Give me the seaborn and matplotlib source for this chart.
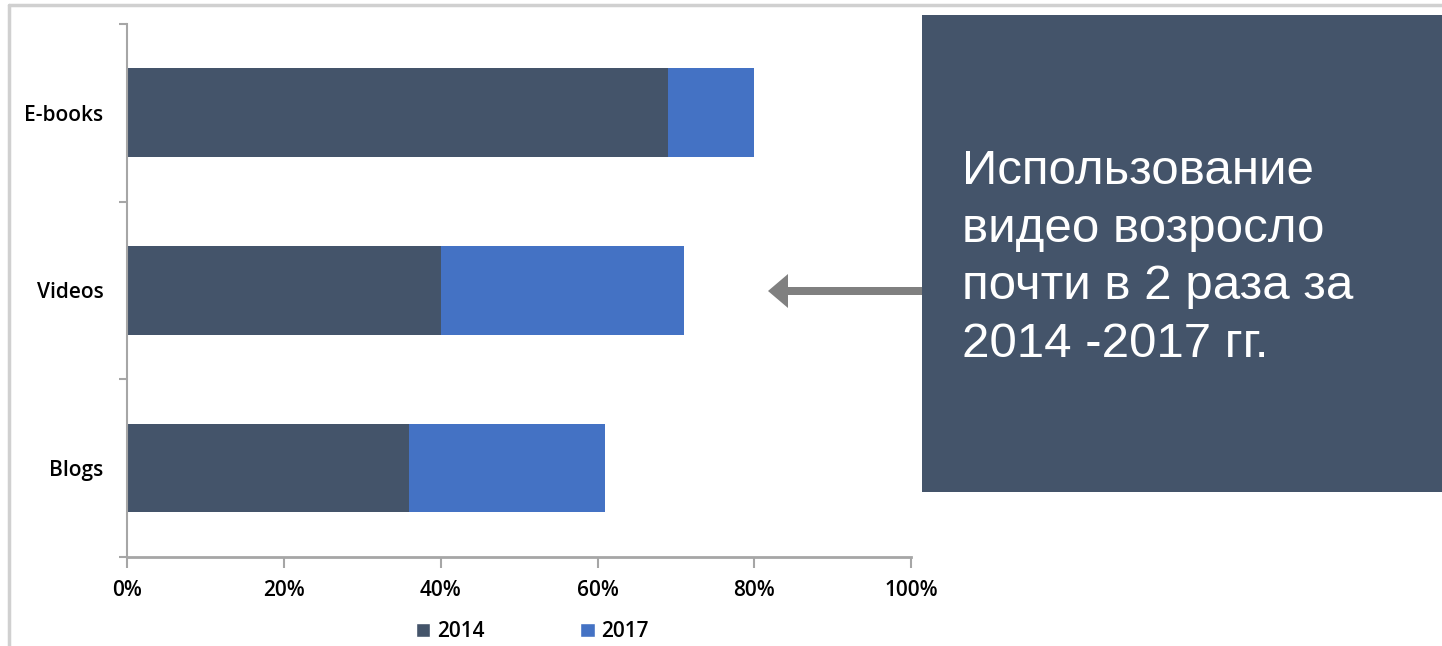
import pandas as pd
import seaborn as sns
import matplotlib.pyplot as plt
from matplotlib.patches import Rectangle, FancyArrow, Patch
from matplotlib.lines import Line2D
from matplotlib.ticker import FixedLocator, PercentFormatter

# данные
categories = ["E-books", "Videos", "Blogs"]
share_2014 = [69, 40, 36]
share_2017 = [80, 71, 61]
years = ["2014", "2017"]

dark = "#44546A"
blue = "#4472C4"
axis_grey = "#A6A6A6"

df = pd.DataFrame({"cat": categories, "y2014": share_2014, "y2017": share_2017})

sns.set_theme(style="white")
plt.rcParams["font.family"] = ["Open Sans", "DejaVu Sans"]
plt.rcParams["text.color"] = "black"
plt.rcParams["xtick.color"] = "black"
plt.rcParams["ytick.color"] = "black"

fig = plt.figure(figsize=(14.42, 6.46), dpi=100)
ax = fig.add_axes([0.088, 0.138, 0.544, 0.825])

# 2017 позади, 2014 поверх (перекрытие 100%)
sns.barplot(data=df, y="cat", x="y2017", order=categories, color=blue,
            width=0.5, orient="h", saturation=1, linewidth=0, ax=ax)
sns.barplot(data=df, y="cat", x="y2014", order=categories, color=dark,
            width=0.5, orient="h", saturation=1, linewidth=0, ax=ax)

ax.set_xlim(0, 100)
ax.set_ylim(2.5, -0.5)
ax.set_xlabel("")
ax.set_ylabel("")
ax.xaxis.set_major_locator(FixedLocator([0, 20, 40, 60, 80, 100]))
ax.xaxis.set_major_formatter(PercentFormatter(decimals=0))
ax.yaxis.set_minor_locator(FixedLocator([-0.5, 0.5, 1.5, 2.5]))
ax.tick_params(axis="y", which="major", length=0, labelsize=15, pad=17)
ax.tick_params(axis="y", which="minor", length=6, width=1.5, color=axis_grey, left=True)
ax.tick_params(axis="x", which="major", length=8, width=1.5, color=axis_grey,
               bottom=True, labelsize=15, pad=9)
for lab in ax.get_xticklabels() + ax.get_yticklabels():
    lab.set_fontweight("semibold")
for s in ["top", "right"]:
    ax.spines[s].set_visible(False)
ax.spines["left"].set_color(axis_grey)
ax.spines["left"].set_linewidth(1.5)
ax.spines["bottom"].set_color(axis_grey)
ax.spines["bottom"].set_linewidth(2)

# легенда
handles = [Patch(facecolor=dark, label=years[0]), Patch(facecolor=blue, label=years[1])]
fig.legend(handles=handles, loc="center", bbox_to_anchor=(0.369, 0.022), ncol=2,
           frameon=False, prop={"size": 15, "weight": "semibold"},
           handlelength=0.7, handleheight=0.7, handletextpad=0.3, columnspacing=4.6)

# рамка слайда
fig.add_artist(Line2D([0.006, 1], [0.992, 0.992], transform=fig.transFigure,
                      color="#D0D0D0", lw=2.5))
fig.add_artist(Line2D([0.006, 0.006], [0, 0.992], transform=fig.transFigure,
                      color="#D0D0D0", lw=2.5))

# текстовый блок
fig.add_artist(Rectangle((922 / 1442, 1 - 492 / 646), 520 / 1442, 477 / 646,
                         transform=fig.transFigure, facecolor=dark, edgecolor="none"))
fig.text(962 / 1442, 1 - 258 / 646,
         "Использование\nвидео возросло\nпочти в 2 раза за\n2014 -2017 гг.",
         color="white", fontsize=35.5, family=["Liberation Sans", "DejaVu Sans"],
         va="center", ha="left", linespacing=1.36)

# стрелка
fig.add_artist(FancyArrow(922 / 1442, 1 - 291 / 646, -(922 - 768) / 1442, 0,
                          width=8 / 646, head_width=34 / 646, head_length=20 / 1442,
                          length_includes_head=True, transform=fig.transFigure,
                          color="#808080", lw=0))

fig.savefig("out.png", dpi=100)
